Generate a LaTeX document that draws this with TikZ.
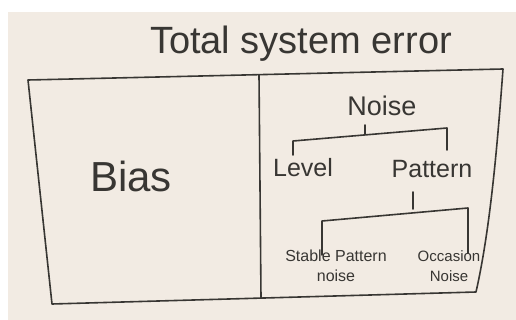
\documentclass[tikz,border=0pt]{standalone}
\usepackage{fontspec}
\setmainfont{Liberation Sans}
\definecolor{paper}{HTML}{F2EBE3}
\definecolor{ink}{HTML}{383633}
\tikzset{
  ink/.style={draw=ink, line width=1.6pt, line cap=round, line join=round},
  lbl/.style={text=ink, inner sep=0pt, anchor=center},
}
\begin{document}
\begin{tikzpicture}[x=1pt,y=-1pt]
\useasboundingbox (0,0) rectangle (516,320);
\fill[white] (0,0) rectangle (516,320);
\fill[paper] (8,12) rectangle (516,320);
% frame
\coordinate (tl) at (28,80);
\coordinate (tr) at (503,69);
\coordinate (br) at (476,292);
\coordinate (bl) at (52,304);
\coordinate (dt) at (259,75);
\coordinate (db) at (261,298);
\draw[ink] (tl) -- (tr) .. controls (497,150) and (490,230) .. (br) -- (bl) -- cycle;
\draw[ink] (dt) -- (db);
% texts
\node[lbl, font=\fontsize{38}{42}\selectfont] (title) at (301,44) {Total system error};
\node[lbl, font=\fontsize{42}{46}\selectfont] (bias) at (131,176) {Bias};
\node[lbl, font=\fontsize{27}{30}\selectfont] (noise) at (382,106) {Noise};
\node[lbl, font=\fontsize{25}{28}\selectfont] (level) at (303,168) {Level};
\node[lbl, font=\fontsize{25}{28}\selectfont] (pattern) at (432,169) {Pattern};
\node[lbl, font=\fontsize{16}{20}\selectfont, align=center] (stable) at (336,266) {Stable Pattern\\noise};
\node[lbl, font=\fontsize{15}{20}\selectfont, align=center] (occasion) at (449,266) {Occasion\\Noise};
% bracket under Noise
\coordinate (n1) at (365,125);
\coordinate (n2) at (365,134);
\coordinate (nl) at (293,141);
\coordinate (nr) at (447,128);
\coordinate (nlb) at (293,155);
\coordinate (nrb) at (447,150);
\draw[ink] (n1) -- (n2);
\draw[ink] (nlb) -- (nl) -- (nr) -- (nrb);
% bracket under Pattern
\coordinate (p1) at (413,192);
\coordinate (p2) at (413,209);
\coordinate (pl) at (322,221);
\coordinate (pr) at (468,208);
\coordinate (plb) at (322,255);
\coordinate (prb) at (468,253);
\draw[ink] (p1) -- (p2);
\draw[ink] (plb) -- (pl) -- (pr) -- (prb);
\end{tikzpicture}
\end{document}
